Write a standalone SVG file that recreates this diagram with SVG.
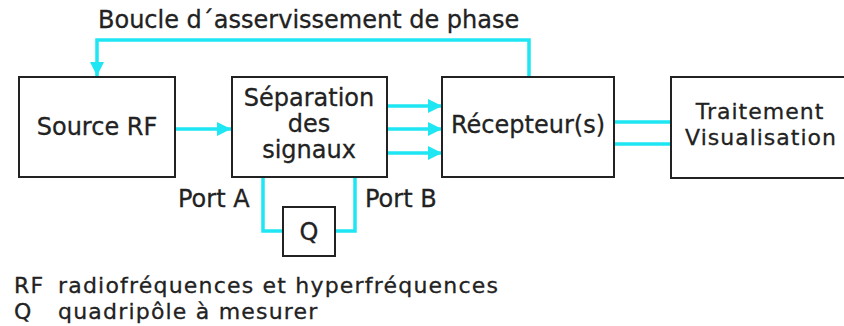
<svg xmlns="http://www.w3.org/2000/svg" width="844" height="326" viewBox="0 0 844 326">
  <style>
    .box { fill: #ffffff; stroke: #222222; stroke-width: 2; }
    .lbl { font-family: "DejaVu Sans", "Liberation Sans", sans-serif; font-size: 24px; fill: #222222; stroke: #222222; stroke-width: 0.3; }
    .sm { font-size: 22px; letter-spacing: 1px; }
    .leg { font-size: 22px; letter-spacing: 1.2px; }
    .mid { text-anchor: middle; }
    .wire { fill: none; stroke: #1ee6f2; stroke-width: 3.5; }
  </style>
  <defs>
    <marker id="arr" markerUnits="userSpaceOnUse" markerWidth="14" markerHeight="14" refX="14" refY="7" orient="auto">
      <path d="M0,0 L14,7 L0,14 z" fill="#1ee6f2"/>
    </marker>
  </defs>
  <rect width="844" height="326" fill="#ffffff"/>

  <g id="connectors">
    <polyline class="wire" points="529,77 529,40 97,40 97,76" marker-end="url(#arr)"/>
    <line class="wire" x1="175" y1="129" x2="231" y2="129" marker-end="url(#arr)"/>
    <line class="wire" x1="387" y1="106" x2="442" y2="106" marker-end="url(#arr)"/>
    <line class="wire" x1="387" y1="129" x2="442" y2="129" marker-end="url(#arr)"/>
    <line class="wire" x1="387" y1="153" x2="442" y2="153" marker-end="url(#arr)"/>
    <line class="wire" x1="614" y1="122" x2="671" y2="122"/>
    <line class="wire" x1="614" y1="144" x2="671" y2="144"/>
    <polyline class="wire" points="263,177 263,231 283,231"/>
    <polyline class="wire" points="355,177 355,231 335,231"/>
  </g>

  <text class="lbl" x="98" y="28">Boucle d´asservissement de phase</text>

  <g id="source">
    <rect class="box" x="19" y="77" width="156" height="100"/>
    <text class="lbl mid" x="97" y="135">Source RF</text>
  </g>
  <g id="separation">
    <rect class="box" x="232" y="77" width="155" height="100"/>
    <text class="lbl mid" x="309" y="106">Séparation</text>
    <text class="lbl mid" x="309" y="132">des</text>
    <text class="lbl mid" x="309" y="158">signaux</text>
  </g>
  <g id="recepteur">
    <rect class="box" x="442" y="77" width="172" height="100"/>
    <text class="lbl mid" x="528" y="133">Récepteur(s)</text>
  </g>
  <g id="traitement">
    <rect class="box" x="671" y="77" width="190" height="101"/>
    <text class="lbl sm mid" x="760" y="119">Traitement</text>
    <text class="lbl sm mid" x="761" y="145">Visualisation</text>
  </g>
  <g id="quadripole">
    <rect class="box" x="283" y="207" width="52" height="49"/>
    <text class="lbl mid" x="309" y="240">Q</text>
  </g>

  <text class="lbl" x="178" y="207">Port A</text>
  <text class="lbl" x="365" y="207">Port B</text>

  <g id="legend">
    <text class="lbl leg" x="14" y="293">RF</text>
    <text class="lbl leg" x="58" y="293">radiofréquences et hyperfréquences</text>
    <text class="lbl leg" x="14" y="319">Q</text>
    <text class="lbl leg" x="58" y="319">quadripôle à mesurer</text>
  </g>
</svg>
